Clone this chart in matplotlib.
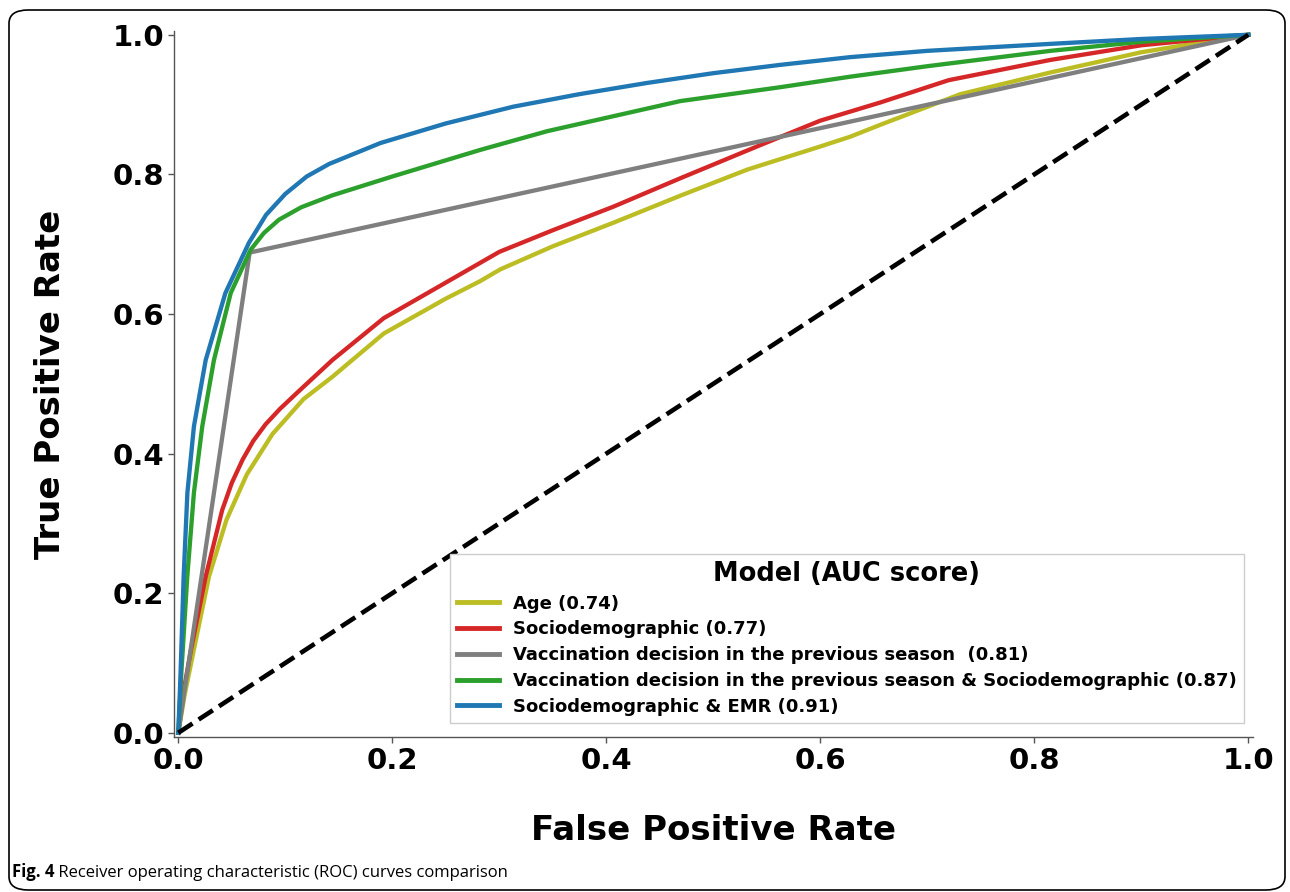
import matplotlib
matplotlib.use("Agg")
import matplotlib.pyplot as plt
from matplotlib.patches import FancyBboxPatch

# ROC points
age_fpr = [0, 0.006, 0.014, 0.0287, 0.045, 0.064, 0.088, 0.117, 0.144, 0.192, 0.25, 0.282,
           0.301, 0.35, 0.407, 0.47, 0.532, 0.6, 0.628, 0.656, 0.731, 0.815, 0.9, 1.0]
age_tpr = [0, 0.055, 0.115, 0.224, 0.305, 0.37, 0.428, 0.478, 0.51, 0.572, 0.622, 0.647,
           0.664, 0.697, 0.731, 0.77, 0.807, 0.84, 0.854, 0.871, 0.915, 0.946, 0.975, 1.0]

socio_fpr = [0, 0.005, 0.012, 0.0256, 0.041, 0.05, 0.06, 0.07, 0.0816, 0.095, 0.113, 0.144,
             0.192, 0.25, 0.30, 0.35, 0.407, 0.47, 0.544, 0.6, 0.656, 0.72, 0.815, 0.9, 1.0]
socio_tpr = [0, 0.06, 0.12, 0.224, 0.319, 0.358, 0.391, 0.418, 0.442, 0.464, 0.49, 0.534,
             0.594, 0.645, 0.689, 0.72, 0.754, 0.795, 0.842, 0.877, 0.903, 0.935, 0.964,
             0.985, 1.0]

prev_fpr = [0, 0.0667, 1.0]
prev_tpr = [0, 0.688, 1.0]

prev_socio_fpr = [0, 0.003, 0.0084, 0.0146, 0.0224, 0.0333, 0.049, 0.0676, 0.08, 0.094, 0.115,
                  0.144, 0.2, 0.282, 0.345, 0.469, 0.563, 0.628, 0.7, 0.815, 0.9, 1.0]
prev_socio_tpr = [0, 0.09, 0.224, 0.344, 0.439, 0.534, 0.63, 0.692, 0.716, 0.735, 0.753,
                  0.77, 0.797, 0.835, 0.862, 0.905, 0.925, 0.94, 0.955, 0.977, 0.99, 1.0]

emr_fpr = [0, 0.002, 0.005, 0.0085, 0.0146, 0.0256, 0.044, 0.066, 0.082, 0.1, 0.12, 0.141,
           0.189, 0.25, 0.313, 0.375, 0.438, 0.5, 0.563, 0.628, 0.7, 0.815, 0.9, 1.0]
emr_tpr = [0, 0.08, 0.224, 0.344, 0.439, 0.534, 0.63, 0.702, 0.742, 0.772, 0.797, 0.815,
           0.845, 0.873, 0.897, 0.915, 0.931, 0.945, 0.957, 0.968, 0.977, 0.987, 0.994, 1.0]

labels = ["Age (0.74)",
          "Sociodemographic (0.77)",
          "Vaccination decision in the previous season  (0.81)",
          "Vaccination decision in the previous season & Sociodemographic (0.87)",
          "Sociodemographic & EMR (0.91)"]
colors = ["#bcbd22", "#d62728", "#7f7f7f", "#2ca02c", "#1f77b4"]

curves = [(age_fpr, age_tpr), (socio_fpr, socio_tpr), (prev_fpr, prev_tpr),
          (prev_socio_fpr, prev_socio_tpr), (emr_fpr, emr_tpr)]

fig = plt.figure(figsize=(12.9, 8.92), dpi=100)
ax = fig.add_axes([0.1349, 0.1738, 0.8361, 0.7911])

for (fx, ty), lab, c in zip(curves, labels, colors):
    ax.plot(fx, ty, color=c, lw=3.1, label=lab)
ax.plot([0, 1], [0, 1], color="black", ls="--", lw=3.3)

ax.set_xlim(-0.004, 1.004)
ax.set_ylim(-0.006, 1.005)
ticks = [0, 0.2, 0.4, 0.6, 0.8, 1.0]
tick_labels = ["0.0", "0.2", "0.4", "0.6", "0.8", "1.0"]
ax.set_xticks(ticks)
ax.set_yticks(ticks)
ax.set_xticklabels(tick_labels, fontsize=21, fontweight="bold")
ax.set_yticklabels(tick_labels, fontsize=21, fontweight="bold")
ax.tick_params(length=4, width=1, color="#555555", pad=3)
for s in ["top", "right"]:
    ax.spines[s].set_visible(False)
for s in ["left", "bottom"]:
    ax.spines[s].set_color("#555555")
    ax.spines[s].set_linewidth(1)

ax.set_xlabel("False Positive Rate", fontsize=24.5, fontweight="bold", labelpad=28)
ax.set_ylabel("True Positive Rate", fontsize=24.5, fontweight="bold", labelpad=33)

leg = ax.legend(loc="lower right", bbox_to_anchor=(0.992, 0.02), borderaxespad=0,
                title="Model (AUC score)", prop={"weight": "bold", "size": 13},
                title_fontproperties={"weight": "bold", "size": 18.5},
                handlelength=2.3, labelspacing=0.43, fancybox=False,
                edgecolor="#cccccc", framealpha=1)
for h in leg.get_lines():
    h.set_linewidth(3.5)

# outer rounded frame
frame = FancyBboxPatch((9 / 1290, 2 / 892), 1276 / 1290, 880 / 892,
                       boxstyle="round,pad=0,rounding_size=0.015",
                       transform=fig.transFigure, fill=False, edgecolor="black", lw=1.2)
fig.patches.append(frame)

cap_font = ["Open Sans", "DejaVu Sans"]
t1 = fig.text(12 / 1290, 1 - 877 / 892, "Fig. 4", fontsize=12, fontweight="bold",
              family=cap_font, va="baseline")
plt.annotate(" Receiver operating characteristic (ROC) curves comparison", xy=(1, 0),
             xycoords=t1, fontsize=12, family=cap_font, va="bottom",
             annotation_clip=False)

fig.savefig("out.png", dpi=100)
